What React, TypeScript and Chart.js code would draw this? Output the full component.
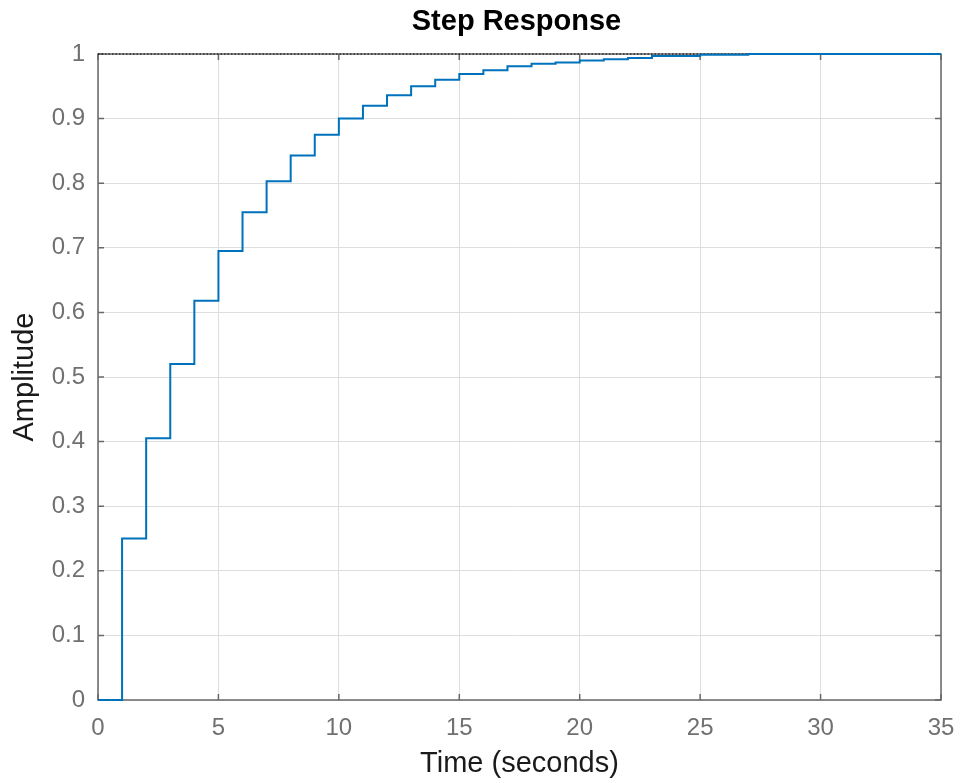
import React, { useEffect, useRef } from "react";
import { Chart, registerables } from "chart.js";

Chart.register(...registerables);

// ---- Data ----
const timeSteps = [
  0, 1, 2, 3, 4, 5, 6, 7, 8, 9, 10, 11, 12, 13, 14, 15, 16, 17, 18, 19, 20,
  21, 22, 23, 24, 25, 26, 27, 28, 29, 30, 31, 32, 33, 34, 35,
];
const amplitude = [
  0, 0.25, 0.405, 0.52, 0.618, 0.695, 0.755, 0.803, 0.843, 0.875, 0.9, 0.92,
  0.936, 0.95, 0.96, 0.969, 0.975, 0.981, 0.985, 0.987, 0.99, 0.992, 0.994,
  0.997, 0.997, 0.999, 0.999, 1, 1, 1, 1, 1, 1, 1, 1, 1,
];
const steadyTime = [0, 35];
const steadyValue = [1, 1];
const xTicks = [0, 5, 10, 15, 20, 25, 30, 35];
const yTicks = [0, 0.1, 0.2, 0.3, 0.4, 0.5, 0.6, 0.7, 0.8, 0.9, 1];
const chartTitle = "Step Response";
const xLabel = "Time (seconds)";
const yLabel = "Amplitude";

const FONT = "'Liberation Sans', Arial, Helvetica, sans-serif";

const axesBox = {
  id: "axesBox",
  beforeDatasetsDraw(chart: any) {
    const { ctx, chartArea, scales } = chart;
    const { left, right, top, bottom } = chartArea;
    const x = scales.x;
    const y = scales.y;
    const tl = 6;
    ctx.save();
    ctx.strokeStyle = "#686868";
    ctx.lineWidth = 1.5;
    ctx.strokeRect(left, top, right - left, bottom - top);
    ctx.beginPath();
    for (const v of xTicks) {
      const px = x.getPixelForValue(v);
      ctx.moveTo(px, bottom);
      ctx.lineTo(px, bottom - tl);
      ctx.moveTo(px, top);
      ctx.lineTo(px, top + tl);
    }
    for (const v of yTicks) {
      const py = y.getPixelForValue(v);
      ctx.moveTo(left, py);
      ctx.lineTo(left + tl, py);
      ctx.moveTo(right, py);
      ctx.lineTo(right - tl, py);
    }
    ctx.stroke();
    ctx.restore();
  },
  afterDraw(chart: any) {
    const { ctx, chartArea } = chart;
    ctx.save();
    ctx.fillStyle = "#000000";
    ctx.font = `bold 29px ${FONT}`;
    ctx.textAlign = "center";
    ctx.textBaseline = "middle";
    ctx.fillText(chartTitle, (chartArea.left + chartArea.right) / 2 - 3, 22);
    ctx.restore();
  },
};

export default function App() {
  const canvasRef = useRef<HTMLCanvasElement | null>(null);

  useEffect(() => {
    if (!canvasRef.current) return;
    const chart = new Chart(canvasRef.current, {
      type: "line",
      data: {
        datasets: [
          {
            label: "response",
            data: timeSteps.map((t, i) => ({ x: t, y: amplitude[i] })),
            borderColor: "#0072BD",
            borderWidth: 2,
            pointRadius: 0,
            stepped: true,
            fill: false,
            clip: 4,
            order: 0,
          },
          {
            label: "steady",
            data: steadyTime.map((t, i) => ({ x: t, y: steadyValue[i] })),
            borderColor: "#000000",
            borderWidth: 1,
            borderDash: [1.5, 2],
            pointRadius: 0,
            fill: false,
            clip: 4,
            order: 1,
          },
        ],
      },
      options: {
        responsive: false,
        animation: false,
        devicePixelRatio: 1,
        layout: { padding: { left: 0, top: 54, right: 20, bottom: 0 } },
        plugins: {
          legend: { display: false },
          tooltip: { enabled: false },
          title: { display: false },
        },
        scales: {
          x: {
            type: "linear",
            min: 0,
            max: 35,
            afterBuildTicks: (s: any) => {
              s.ticks = xTicks.map((v) => ({ value: v }));
            },
            afterFit: (s: any) => {
              s.height = 83;
              s.paddingLeft = 0;
              s.paddingRight = 0;
            },
            ticks: {
              color: "#707070",
              font: { family: FONT, size: 24 },
              padding: 14,
              maxRotation: 0,
              callback: (v: any) => String(v),
            },
            grid: { color: "#dedede", lineWidth: 1, drawTicks: false },
            border: { display: false },
            title: {
              display: true,
              text: xLabel,
              color: "#1a1a1a",
              font: { family: FONT, size: 29 },
              padding: { top: 0, bottom: 2 },
            },
          },
          y: {
            type: "linear",
            min: 0,
            max: 1,
            afterBuildTicks: (s: any) => {
              s.ticks = yTicks.map((v) => ({ value: v }));
            },
            afterFit: (s: any) => {
              s.width = 98;
              s.paddingTop = 0;
              s.paddingBottom = 0;
            },
            ticks: {
              color: "#707070",
              font: { family: FONT, size: 24 },
              padding: 13,
              callback: (v: any) => String(Math.round(Number(v) * 10) / 10),
            },
            grid: { color: "#dedede", lineWidth: 1, drawTicks: false },
            border: { display: false },
            title: {
              display: true,
              text: yLabel,
              color: "#1a1a1a",
              font: { family: FONT, size: 29 },
              padding: { top: 8, bottom: 0 },
            },
          },
        },
      },
      plugins: [axesBox],
    });
    return () => chart.destroy();
  }, []);

  return (
    <div style={{ position: "absolute", left: 0, top: 0, width: 961, height: 783, background: "#fff" }}>
      <canvas ref={canvasRef} width={961} height={783} style={{ display: "block" }} />
    </div>
  );
}
